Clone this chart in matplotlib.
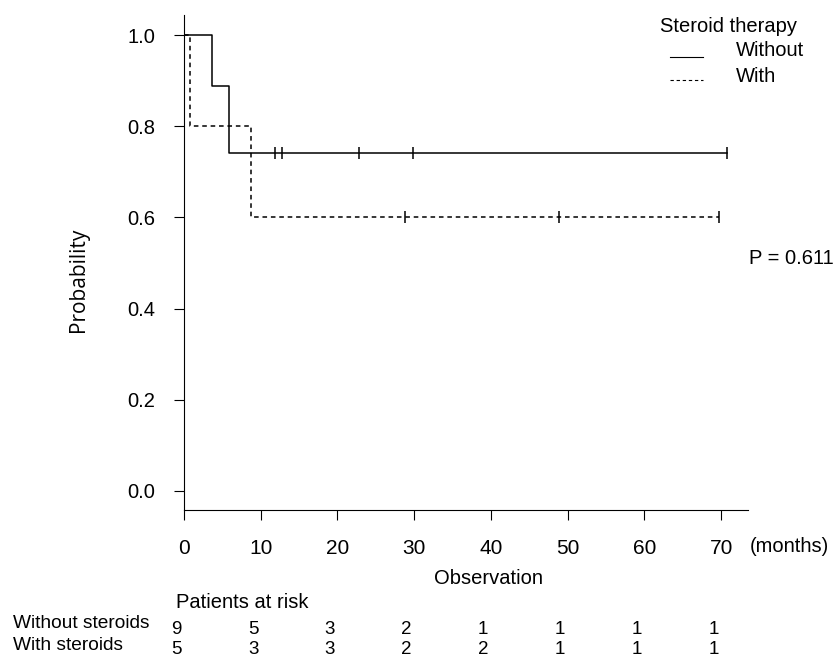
import matplotlib
matplotlib.use("Agg")
import matplotlib.pyplot as plt
from matplotlib.lines import Line2D
from matplotlib.transforms import blended_transform_factory

plt.rcParams["font.family"] = ["Liberation Sans", "DejaVu Sans"]
plt.rcParams["font.size"] = 14.5

# Kaplan-Meier curves (months, survival probability)
without_times = [0, 3.7, 5.9, 70.7]
without_surv = [1.0, 0.889, 0.741, 0.741]
without_censor = [11.9, 12.8, 22.8, 29.8, 70.7]

with_times = [0, 0.8, 8.7, 69.7]
with_surv = [1.0, 0.8, 0.6, 0.6]
with_censor = [28.8, 48.9, 69.7]

# patients at risk table
risk_times = [0, 10, 20, 30, 40, 50, 60, 70]
risk_without = [9, 5, 3, 2, 1, 1, 1, 1]
risk_with = [5, 3, 3, 2, 2, 1, 1, 1]

p_value = 0.611

W, H = 835, 660
fig = plt.figure(figsize=(W / 100, H / 100), dpi=100)
ax = fig.add_axes([184 / W, 1 - 510 / H, (748 - 184) / W, (510 - 15) / H])


def surv_at(times, surv, t):
    s = surv[0]
    for ti, si in zip(times, surv):
        if ti <= t:
            s = si
    return s


ax.step(without_times, without_surv, where="post", color="black", lw=1.1)
ax.plot(without_censor, [surv_at(without_times, without_surv, t) for t in without_censor],
        ls="none", marker="|", ms=9, mew=1.1, color="black")

ax.step(with_times, with_surv, where="post", color="black", lw=1.1,
        linestyle=(0, (3, 2.5)))
ax.plot(with_censor, [surv_at(with_times, with_surv, t) for t in with_censor],
        ls="none", marker="|", ms=9, mew=1.1, color="black")

ax.set_xlim(0, 73.5)
ax.set_ylim(-0.0417, 1.0439)
ax.spines["top"].set_visible(False)
ax.spines["right"].set_visible(False)
ax.set_xticks(range(0, 71, 10))
ax.set_yticks([0, 0.2, 0.4, 0.6, 0.8, 1.0])
ax.set_yticklabels(["0.0", "0.2", "0.4", "0.6", "0.8", "1.0"])
ax.tick_params(axis="x", length=7.2, pad=14, labelsize=15)
ax.tick_params(axis="y", length=7.2, pad=13.5, labelsize=14.5)

ax.set_ylabel("Probability", fontsize=15, family=["Open Sans", "DejaVu Sans"])
ax.yaxis.set_label_coords((89 - 184) / 564, (510 - 280) / 495)
ax.set_xlabel("Observation")
ax.xaxis.set_label_coords((489 - 184) / 564, (510 - 569) / 495)

fig.text(750 / W, 1 - 547 / H, "(months)", ha="left", va="center")
fig.text(749 / W, 1 - 259 / H, "P = %.3f" % p_value, ha="left", va="center")

# legend drawn by hand to match the layout
fig.text(660 / W, 1 - 26 / H, "Steroid therapy", ha="left", va="center")
fig.text(736 / W, 1 - 50 / H, "Without", ha="left", va="center")
fig.text(736 / W, 1 - 76 / H, "With", ha="left", va="center")
fig.add_artist(Line2D([670 / W, 703 / W], [1 - 57 / H, 1 - 57 / H], color="black", lw=0.8))
fig.add_artist(Line2D([670 / W, 703 / W], [1 - 80 / H, 1 - 80 / H], color="black", lw=0.8,
                      linestyle=(0, (3, 2.5))))

# at-risk table
fig.text(176 / W, 1 - 602 / H, "Patients at risk", ha="left", va="center")
fig.text(13 / W, 1 - 624 / H, "Without steroids", ha="left", va="center", fontsize=13.8)
fig.text(13 / W, 1 - 645 / H, "With steroids", ha="left", va="center", fontsize=13.8)
tr = blended_transform_factory(ax.transData, fig.transFigure)
for t, a, b in zip(risk_times, risk_without, risk_with):
    ax.text(t - 1.0, 1 - 629 / H, str(a), transform=tr, ha="center", va="center",
            fontsize=13.5, clip_on=False)
    ax.text(t - 1.0, 1 - 650 / H, str(b), transform=tr, ha="center", va="center",
            fontsize=13.5, clip_on=False)

fig.savefig("out.png", dpi=100)
